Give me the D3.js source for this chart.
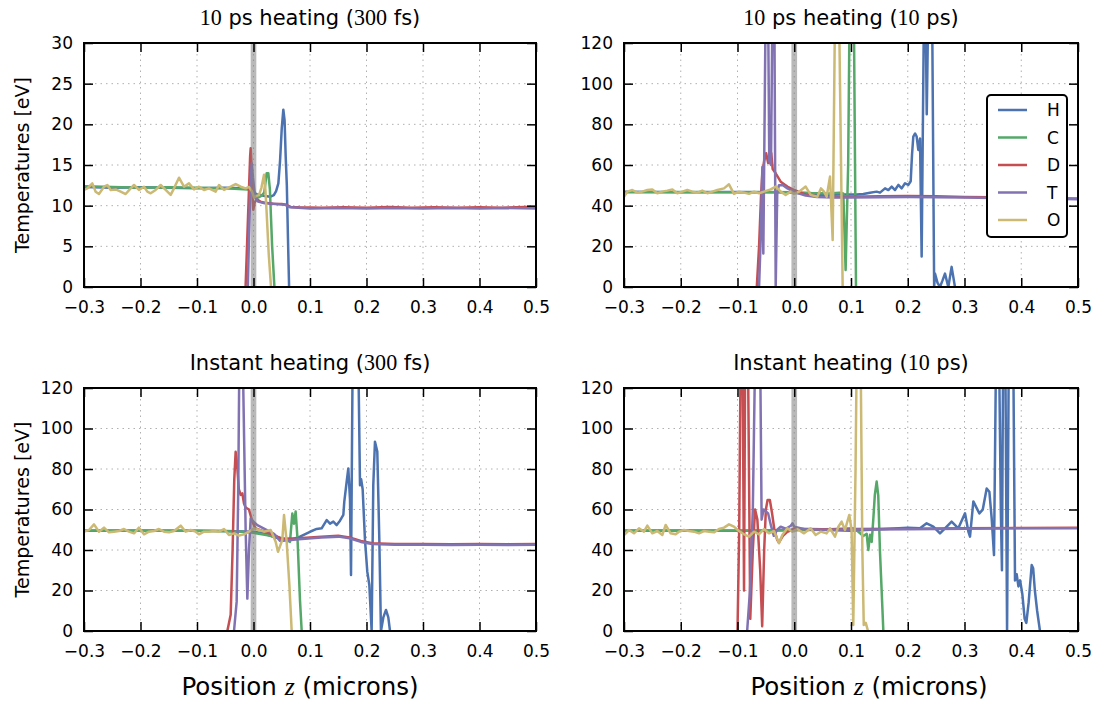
<!DOCTYPE html>
<html><head><meta charset="utf-8">
<script src="https://cdn.jsdelivr.net/npm/d3@7"></script>
<style>body{margin:0;background:#fff}</style>
</head><body><svg id="c" width="1099" height="705"></svg>
<script>
// ---------------- data ----------------
const seriesNames = ["H","C","D","T","O"];
const seriesColors = ["#4C72B0","#55A868","#C44E52","#8172B2","#CCB974"];
const xTickValues = [-0.3,-0.2,-0.1,0.0,0.1,0.2,0.3,0.4,0.5];
const yTicks30 = [0,5,10,15,20,25,30];
const yTicks120 = [0,20,40,60,80,100,120];
const titleTL = [["10",1],[" ps heating (",0],["300",1],[" fs)",0]];
const titleTR = [["10",1],[" ps heating (",0],["10",1],[" ps)",0]];
const titleBL = [["Instant heating (",0],["300",1],[" fs)",0]];
const titleBR = [["Instant heating (",0],["10",1],[" ps)",0]];
const yLabel = "Temperatures [eV]";
const xLabel = [["Position ",0],["z",2],[" (microns)",0]];

// 10 ps heating (300 fs)
const tl_H = [[-0.3,12.3],[-0.25,12.2],[-0.2,12.25],[-0.15,12.2],[-0.1,12.15],[-0.05,12.2],[-0.01,12.1],[-0.004,12.5],[0.0,11.8],[0.005,11.4],[0.012,11.3],[0.02,11.2],[0.03,11.1],[0.036,11.3],[0.04,11.8],[0.044,12.75],[0.047,15.5],[0.05,19.5],[0.0528,21.8],[0.055,20.5],[0.057,16],[0.059,12.5],[0.061,6],[0.063,0]];
const tl_C = [[-0.3,12.4],[-0.25,12.3],[-0.2,12.2],[-0.15,12.25],[-0.1,12.2],[-0.05,12.15],[-0.01,12.0],[-0.003,11.6],[0.003,11.3],[0.008,11.0],[0.014,11.2],[0.019,11.6],[0.0233,14.0],[0.0262,14.0],[0.029,12],[0.033,5],[0.037,0]];
const tl_D = [[-0.014,0],[-0.011,6],[-0.008,12],[-0.006,16],[-0.005,17.05],[-0.0035,15],[-0.002,11.5],[-0.0004,9.5],[0.002,10.4],[0.006,10.8],[0.012,10.5],[0.02,10.35],[0.035,10.25],[0.05,10.2],[0.058,10.1],[0.066,9.85],[0.08,9.8],[0.12,9.75],[0.16,9.8],[0.2,9.75],[0.24,9.85],[0.28,9.75],[0.32,9.8],[0.36,9.75],[0.4,9.8],[0.44,9.75],[0.48,9.85],[0.5,9.8]];
const tl_T = [[-0.010,0],[-0.008,6],[-0.006,11],[-0.0045,14],[-0.003,15.2],[-0.001,13.5],[0.0026,11.1],[0.008,10.5],[0.02,10.3],[0.04,10.2],[0.056,10.1],[0.065,9.8],[0.1,9.65],[0.15,9.7],[0.2,9.65],[0.25,9.7],[0.3,9.65],[0.35,9.7],[0.4,9.65],[0.45,9.7],[0.5,9.65]];
const tl_O = [[-0.3,11.93],[-0.2941,12.13],[-0.2853,12.74],[-0.2794,11.72],[-0.2735,11.43],[-0.2646,12.33],[-0.2587,12.54],[-0.2528,11.93],[-0.244,12.0],[-0.2351,11.72],[-0.2263,11.43],[-0.2174,12.13],[-0.2115,12.54],[-0.2027,11.93],[-0.1938,12.33],[-0.1879,11.72],[-0.182,11.52],[-0.1732,11.93],[-0.1643,12.54],[-0.1555,11.93],[-0.1466,11.32],[-0.1407,12.13],[-0.1319,13.44],[-0.123,12.33],[-0.1142,12.74],[-0.1053,12.0],[-0.0965,12.33],[-0.0876,11.93],[-0.0788,12.13],[-0.067,11.72],[-0.0611,12.54],[-0.0522,11.93],[-0.0404,12.33],[-0.0316,12.66],[-0.0227,12.33],[-0.0139,12.13],[-0.008,12.3],[-0.003,11.8],[0.001,11.0],[0.005,11.2],[0.0097,11.3],[0.014,12.2],[0.0186,13.8],[0.021,12.0],[0.023,9.5],[0.027,4],[0.031,0]];

// 10 ps heating (10 ps)
const tr_H = [[-0.3,46.8],[-0.2,46.6],[-0.1,46.7],[-0.02,46.6],[0.0,46.4],[0.03,45.6],[0.05,45.3],[0.08,45.5],[0.11,45.5],[0.1217,45.7],[0.1335,46.4],[0.1452,46.9],[0.1511,46.4],[0.16,48.5],[0.1658,47.7],[0.1717,49.4],[0.1776,47.7],[0.1835,50.2],[0.1893,48.5],[0.1952,51],[0.2011,50.2],[0.2052,52],[0.2075,65],[0.2098,74],[0.213,75.5],[0.2157,74],[0.2186,67.4],[0.2216,73],[0.2245,15],[0.2285,135],[0.2315,135],[0.2335,85],[0.236,135],[0.243,135],[0.2465,0],[0.248,6.6],[0.2525,2],[0.2568,0],[0.2610,3],[0.2656,6.6],[0.2715,0],[0.2773,9.9],[0.2832,0]];
const tr_C = [[-0.3,46.6],[-0.2,46.7],[-0.1,46.6],[-0.05,46.7],[0.0,46.6],[0.03,46.2],[0.06,46.0],[0.08,46.3],[0.0865,46],[0.0905,8.4],[0.095,60],[0.0975,135],[0.105,135],[0.1088,0]];
const tr_D = [[-0.066,0],[-0.062,20],[-0.0585,45],[-0.0562,56],[-0.053,62],[-0.0495,65.8],[-0.046,61],[-0.043,62.5],[-0.0405,65.8],[-0.038,58],[-0.0327,55.9],[-0.0239,51.8],[-0.0122,49.4],[0.0,47.7],[0.01,46.5],[0.02,45.5],[0.04,44.6],[0.07,44.3],[0.1,44.4],[0.15,44.6],[0.2,44.7],[0.25,44.6],[0.3,44.3],[0.35,44.1],[0.4,43.9],[0.45,43.7],[0.5,43.5]];
const tr_T = [[-0.062,0],[-0.059,25],[-0.0562,59],[-0.0545,16.5],[-0.0505,135],[-0.046,135],[-0.044,62],[-0.041,60],[-0.0385,135],[-0.035,135],[-0.0327,0],[-0.030,46],[-0.027,50],[-0.02,50],[-0.012,48.5],[-0.005,47.5],[0.0,46.8],[0.01,45.8],[0.02,45],[0.04,44.3],[0.07,44],[0.1,44],[0.15,44.2],[0.2,44.3],[0.25,44.2],[0.3,44],[0.35,43.8],[0.4,43.6],[0.45,43.4],[0.5,43.2]];
const tr_O = [[-0.3,44.4],[-0.2941,46.9],[-0.2853,47.7],[-0.2765,46.4],[-0.2677,46.9],[-0.2589,47.7],[-0.2501,48.0],[-0.2413,46.1],[-0.2325,46.9],[-0.2236,47.4],[-0.2148,48.0],[-0.206,46.1],[-0.1972,46.9],[-0.1884,47.7],[-0.1796,46.9],[-0.1708,46.4],[-0.162,47.4],[-0.1532,46.1],[-0.1443,46.9],[-0.1355,47.7],[-0.1238,48.5],[-0.115,50.5],[-0.1062,45.8],[-0.0974,46.9],[-0.0885,46.4],[-0.0797,45.8],[-0.0709,46.9],[-0.0621,46.1],[-0.0533,46.9],[-0.0416,48.0],[-0.0327,49.4],[-0.0239,46.9],[-0.0151,45.3],[-0.0063,46.9],[-0.0004,45.8],[0.0084,46.9],[0.0201,49.4],[0.0289,45.3],[0.0407,44.4],[0.047,48.5],[0.0524,46.9],[0.0571,44.4],[0.063,54.3],[0.0677,23.1],[0.0718,135],[0.079,135],[0.0853,0]];

// Instant heating (300 fs)
const bl_H = [[-0.3,49.5],[-0.2,49.6],[-0.1,49.5],[-0.05,49.4],[0.0,49.0],[0.02,48],[0.04,46],[0.065,45],[0.0823,46.6],[0.1,49],[0.1118,50.4],[0.1206,50.7],[0.1295,54.8],[0.1354,53],[0.1413,54],[0.1472,52.3],[0.1531,54.5],[0.159,57.3],[0.1607,63.9],[0.1649,73.7],[0.1678,80.3],[0.1708,65],[0.1726,27.7],[0.1755,135],[0.1855,135],[0.1885,72],[0.1905,75],[0.1932,70],[0.1973,45],[0.2014,29.3],[0.205,22.7],[0.2091,0],[0.212,72],[0.215,93.5],[0.2191,88.6],[0.2227,45],[0.2256,0],[0.2298,6.7],[0.2345,10.4],[0.2386,6.7],[0.2416,0]];
const bl_C = [[-0.3,49.6],[-0.2,49.5],[-0.1,49.5],[-0.05,49.3],[-0.02,49],[0.0,48.5],[0.02,47.5],[0.04,46.5],[0.055,45.5],[0.0646,44],[0.0687,58],[0.0717,53],[0.0746,59],[0.078,45],[0.0823,15],[0.0853,0]];
const bl_D = [[-0.0463,0],[-0.0404,8],[-0.037,40],[-0.034,75],[-0.0316,88.5],[-0.029,82],[-0.026,70],[-0.0227,67.2],[-0.0198,68],[-0.0168,63],[-0.0139,61],[-0.008,60],[-0.0021,54],[0.0038,50.6],[0.02,49],[0.036,47.5],[0.05,45.5],[0.08,45.8],[0.12,46.6],[0.15,47.0],[0.17,46.2],[0.19,44.5],[0.21,43.3],[0.25,43],[0.3,43],[0.35,42.9],[0.4,43],[0.45,42.9],[0.5,43]];
const bl_T = [[-0.0345,0],[-0.0298,14.5],[-0.027,70],[-0.025,135],[-0.019,135],[-0.0139,50],[-0.0109,16],[-0.008,40],[-0.005,55.6],[0.0,54],[0.0068,52.3],[0.0186,50.6],[0.0363,48],[0.047,44.5],[0.08,45.3],[0.12,46.2],[0.15,46.6],[0.17,45.8],[0.19,44],[0.21,43],[0.25,42.6],[0.3,42.6],[0.35,42.5],[0.4,42.6],[0.45,42.5],[0.5,42.6]];
const bl_O = [[-0.3,49.05],[-0.2912,49.87],[-0.2823,52.67],[-0.2735,49.05],[-0.2646,51.03],[-0.2558,48.72],[-0.2469,49.05],[-0.2381,49.38],[-0.2292,50.37],[-0.2204,49.05],[-0.2115,48.23],[-0.2027,51.03],[-0.1938,47.74],[-0.185,49.05],[-0.1761,49.38],[-0.1673,50.37],[-0.1584,49.05],[-0.1496,48.72],[-0.1407,49.38],[-0.1289,52.02],[-0.1201,49.05],[-0.1112,49.87],[-0.1024,49.05],[-0.0965,47.74],[-0.0876,49.05],[-0.0788,49.05],[-0.0699,49.38],[-0.0611,49.05],[-0.0522,50.37],[-0.0434,47.41],[-0.0345,48.23],[-0.0257,47.08],[-0.0168,47.74],[-0.008,49.05],[0.0009,50.7],[0.0097,49.87],[0.0186,49.05],[0.0304,49.87],[0.0392,44.1],[0.0434,39.1],[0.051,45],[0.054,57.3],[0.0587,44.1],[0.0635,22.7],[0.0676,0]];

// Instant heating (10 ps)
const br_H = [[-0.3,49.5],[-0.2,49.6],[-0.1,49.5],[-0.05,49.6],[0.0,50],[0.0454,50],[0.1,49.5],[0.16,50.4],[0.2,51],[0.2216,50.7],[0.2333,53.2],[0.2451,51.5],[0.2568,48.2],[0.2656,50.7],[0.2773,54],[0.2891,50.7],[0.3009,58.1],[0.3068,49.1],[0.3097,46.6],[0.3156,64],[0.3215,60.7],[0.3262,58.1],[0.3321,59.9],[0.3391,70.4],[0.3438,68.8],[0.3479,55.6],[0.352,37.5],[0.3555,135],[0.361,135],[0.364,60],[0.366,30],[0.368,135],[0.372,135],[0.375,0],[0.378,135],[0.386,135],[0.389,25],[0.392,28],[0.395,22],[0.398,25],[0.402,18],[0.406,6],[0.409,4],[0.413,14],[0.4184,32.6],[0.421,31],[0.424,20],[0.428,10],[0.433,0]];
const br_C = [[-0.3,49.6],[-0.2,49.5],[-0.1,49.6],[-0.05,49.5],[0.0,49.8],[0.05,50],[0.1041,50.7],[0.113,49],[0.1217,46.9],[0.1276,48],[0.1305,40],[0.1335,47.5],[0.1365,44],[0.1394,55.6],[0.142,67.2],[0.1452,73.8],[0.148,67],[0.1511,39],[0.154,20],[0.157,0]];
const br_D = [[-0.1,0],[-0.097,50],[-0.0945,135],[-0.091,135],[-0.0885,20],[-0.0865,135],[-0.0815,135],[-0.0775,6],[-0.073,40],[-0.069,60],[-0.065,55],[-0.06,30],[-0.0565,2.4],[-0.053,40],[-0.05,60],[-0.047,64.7],[-0.043,64.7],[-0.039,58],[-0.035,50],[-0.03,45],[-0.027,43.7],[-0.02,47],[-0.012,49],[0.0,50.5],[0.05,50.3],[0.1,50.4],[0.2,50.5],[0.3,50.7],[0.4,50.9],[0.5,51]];
const br_T = [[-0.083,0],[-0.078,20],[-0.073,60],[-0.069,135],[-0.06,135],[-0.0575,55],[-0.054,60],[-0.05,59],[-0.046,58],[-0.041,52],[-0.036,47],[-0.03,50],[-0.024,51.5],[-0.015,50.5],[-0.006,52],[-0.003,53.2],[0.0,51.5],[0.02,50.2],[0.05,50],[0.1,50.1],[0.2,50.3],[0.3,50.5],[0.4,50.7],[0.5,50.8]];
const br_O = [[-0.3,47.41],[-0.2912,49.88],[-0.2824,48.23],[-0.2736,50.7],[-0.2648,49.05],[-0.2589,52.02],[-0.2501,48.23],[-0.2413,49.38],[-0.2325,47.41],[-0.2266,52.35],[-0.2178,48.23],[-0.209,47.74],[-0.2031,49.05],[-0.1943,49.88],[-0.1855,49.38],[-0.1767,49.05],[-0.1678,48.23],[-0.159,49.38],[-0.1502,49.05],[-0.1414,48.72],[-0.1326,50.37],[-0.1238,51.03],[-0.115,52.67],[-0.1062,51.52],[-0.0974,49.38],[-0.0885,47.74],[-0.0797,46.59],[-0.0709,49.05],[-0.0621,47.74],[-0.0533,50.37],[-0.0445,48.23],[-0.0357,49.38],[-0.0269,43.3],[-0.021,47.41],[-0.0122,50.7],[-0.0034,49.05],[0.0054,50.37],[0.0172,48.23],[0.0289,50.7],[0.0377,47.41],[0.0466,49.05],[0.057,48.2],[0.063,50.7],[0.0718,46.6],[0.0777,51.5],[0.0835,54],[0.0894,49.9],[0.097,57.3],[0.101,50],[0.104,3],[0.108,80],[0.11,135],[0.117,135],[0.12,40],[0.1225,3],[0.126,4],[0.13,0]];

// ---------------- layout ----------------
const panels = [
  {x0:84, x1:536, y0:43, y1:287, ymax:30, yt:yTicks30, title:titleTL, data:[tl_H,tl_C,tl_D,tl_T,tl_O], ylab:true, xlab:null, legend:false},
  {x0:624, x1:1078, y0:43, y1:287, ymax:120, yt:yTicks120, title:titleTR, data:[tr_H,tr_C,tr_D,tr_T,tr_O], ylab:false, xlab:null, legend:true},
  {x0:84, x1:536, y0:388, y1:631, ymax:120, yt:yTicks120, title:titleBL, data:[bl_H,bl_C,bl_D,bl_T,bl_O], ylab:true, xlab:300, legend:false},
  {x0:624, x1:1078, y0:388, y1:631, ymax:120, yt:yTicks120, title:titleBR, data:[br_H,br_C,br_D,br_T,br_O], ylab:false, xlab:869, legend:false}
];
const SANS = "DejaVu Sans", SERIF = "Liberation Serif";
const svg = d3.select("#c");
svg.append("rect").attr("width",1099).attr("height",705).attr("fill","#fff");

function richText(g, parts, size) {
  parts.forEach(([t, f]) => {
    g.append("tspan").text(t)
      .attr("font-family", f ? SERIF : SANS)
      .attr("font-style", f === 2 ? "italic" : "normal")
      .attr("font-size", f ? size * 1.05 : size);
  });
}

panels.forEach((p, i) => {
  const x = d3.scaleLinear().domain([-0.3, 0.5]).range([p.x0, p.x1]);
  const y = d3.scaleLinear().domain([0, p.ymax]).range([p.y1, p.y0]);
  const g = svg.append("g");
  const clipId = "clip" + i;
  svg.append("defs").append("clipPath").attr("id", clipId)
    .append("rect").attr("x", p.x0).attr("y", p.y0).attr("width", p.x1 - p.x0).attr("height", p.y1 - p.y0);

  // grid
  const grid = g.append("g").attr("stroke", "#b0b0b0").attr("stroke-width", 1).attr("stroke-dasharray", "1.5,4");
  xTickValues.forEach(v => grid.append("line").attr("x1", x(v)).attr("x2", x(v)).attr("y1", p.y0).attr("y2", p.y1));
  p.yt.forEach(v => grid.append("line").attr("y1", y(v)).attr("y2", y(v)).attr("x1", p.x0).attr("x2", p.x1));

  // lines
  const plot = g.append("g").attr("clip-path", `url(#${clipId})`);
  const line = d3.line().x(d => x(d[0])).y(d => y(d[1]));
  p.data.forEach((s, k) => {
    plot.append("path").datum(s).attr("d", line).attr("fill", "none")
      .attr("stroke", seriesColors[k]).attr("stroke-width", 2.5)
      .attr("stroke-linejoin", "round").attr("stroke-linecap", "round");
  });
  // x = 0 band
  plot.append("rect").attr("x", x(-0.005)).attr("width", x(0.005) - x(-0.005))
    .attr("y", p.y0).attr("height", p.y1 - p.y0).attr("fill", "#808080").attr("opacity", 0.55);

  // axes
  const fmt = d3.format(".1f");
  const ax = (gen, tr) => {
    const a = g.append("g").attr("transform", tr).call(gen);
    a.select(".domain").remove();
    a.selectAll(".tick line").attr("stroke", "#000").attr("stroke-width", 1.5);
    a.selectAll("text").attr("font-family", SANS).attr("font-size", 17).attr("fill", "#000");
    return a;
  };
  ax(d3.axisBottom(x).tickValues(xTickValues).tickFormat(fmt).tickSize(-9).tickPadding(14), `translate(0,${p.y1})`);
  ax(d3.axisTop(x).tickValues(xTickValues).tickFormat("").tickSize(-9), `translate(0,${p.y0})`);
  ax(d3.axisLeft(y).tickValues(p.yt).tickFormat(d3.format("d")).tickSize(-9).tickPadding(11), `translate(${p.x0},0)`);
  ax(d3.axisRight(y).tickValues(p.yt).tickFormat("").tickSize(-9), `translate(${p.x1},0)`);
  g.append("rect").attr("x", p.x0).attr("y", p.y0).attr("width", p.x1 - p.x0).attr("height", p.y1 - p.y0)
    .attr("fill", "none").attr("stroke", "#000").attr("stroke-width", 2);

  // title
  const tt = g.append("text").attr("x", (p.x0 + p.x1) / 2).attr("y", p.y0 - 18)
    .attr("text-anchor", "middle").attr("fill", "#000");
  richText(tt, p.title, 21);

  if (p.ylab) {
    g.append("text").attr("transform", `translate(29,${(p.y0 + p.y1) / 2}) rotate(-90)`)
      .attr("text-anchor", "middle").attr("font-family", SANS).attr("font-size", 19).text(yLabel);
  }
  if (p.xlab !== null) {
    const xt = g.append("text").attr("x", p.xlab).attr("y", 695).attr("text-anchor", "middle");
    richText(xt, xLabel, 24.5);
  }
  if (p.legend) {
    const lg = g.append("g");
    lg.append("rect").attr("x", 987).attr("y", 95).attr("width", 80).attr("height", 142)
      .attr("rx", 4).attr("fill", "#fff").attr("stroke", "#000").attr("stroke-width", 2);
    seriesNames.forEach((n, k) => {
      const yy = 110 + k * 27.5;
      lg.append("line").attr("x1", 998).attr("x2", 1027).attr("y1", yy).attr("y2", yy)
        .attr("stroke", seriesColors[k]).attr("stroke-width", 2.5);
      lg.append("text").attr("x", 1047).attr("y", yy + 6).attr("font-family", SANS).attr("font-size", 17).text(n);
    });
  }
});
</script></body></html>
